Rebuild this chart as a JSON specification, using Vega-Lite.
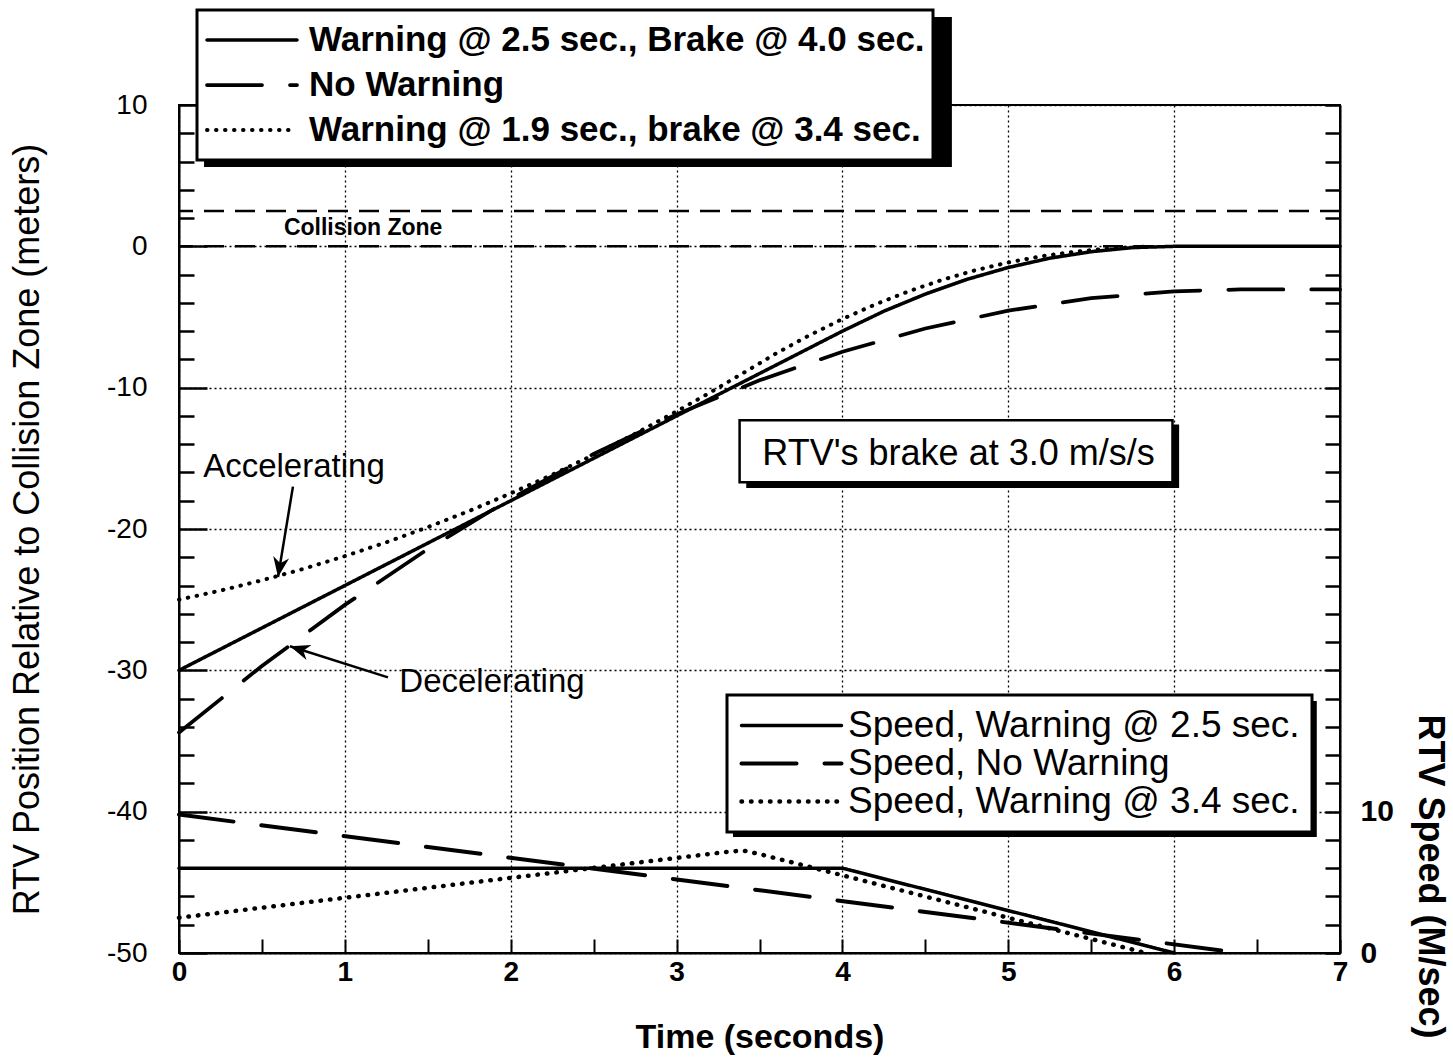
{
  "$schema": "https://vega.github.io/schema/vega-lite/v6.json",
  "width": 1161,
  "height": 848,
  "autosize": {"type": "none"},
  "padding": {"left": 179, "top": 105, "right": 113, "bottom": 107},
  "background": "white",
  "config": {
    "view": {"stroke": "black", "strokeWidth": 2},
    "font": "Liberation Sans",
    "text": {"color": "black"}
  },
  "datasets": {
    "pos": [
      {"series": "Warning @ 2.5 sec., Brake @ 4.0 sec.", "t": 0, "v": -30},
      {"series": "Warning @ 2.5 sec., Brake @ 4.0 sec.", "t": 4, "v": -6},
      {"series": "Warning @ 2.5 sec., Brake @ 4.0 sec.", "t": 4.25, "v": -4.59},
      {"series": "Warning @ 2.5 sec., Brake @ 4.0 sec.", "t": 4.5, "v": -3.38},
      {"series": "Warning @ 2.5 sec., Brake @ 4.0 sec.", "t": 4.75, "v": -2.34},
      {"series": "Warning @ 2.5 sec., Brake @ 4.0 sec.", "t": 5, "v": -1.5},
      {"series": "Warning @ 2.5 sec., Brake @ 4.0 sec.", "t": 5.25, "v": -0.84},
      {"series": "Warning @ 2.5 sec., Brake @ 4.0 sec.", "t": 5.5, "v": -0.38},
      {"series": "Warning @ 2.5 sec., Brake @ 4.0 sec.", "t": 5.75, "v": -0.09},
      {"series": "Warning @ 2.5 sec., Brake @ 4.0 sec.", "t": 6, "v": 0},
      {"series": "Warning @ 2.5 sec., Brake @ 4.0 sec.", "t": 7, "v": 0},
      {"series": "No Warning", "t": 0, "v": -34.4},
      {"series": "No Warning", "t": 0.5, "v": -29.69},
      {"series": "No Warning", "t": 1, "v": -25.37},
      {"series": "No Warning", "t": 1.5, "v": -21.42},
      {"series": "No Warning", "t": 2, "v": -17.86},
      {"series": "No Warning", "t": 2.5, "v": -14.69},
      {"series": "No Warning", "t": 3, "v": -11.89},
      {"series": "No Warning", "t": 3.5, "v": -9.48},
      {"series": "No Warning", "t": 4, "v": -7.46},
      {"series": "No Warning", "t": 4.5, "v": -5.81},
      {"series": "No Warning", "t": 5, "v": -4.55},
      {"series": "No Warning", "t": 5.5, "v": -3.67},
      {"series": "No Warning", "t": 6, "v": -3.18},
      {"series": "No Warning", "t": 6.4, "v": -3.05},
      {"series": "No Warning", "t": 7, "v": -3.05},
      {"series": "Warning @ 1.9 sec., brake @ 3.4 sec.", "t": 0, "v": -25},
      {"series": "Warning @ 1.9 sec., brake @ 3.4 sec.", "t": 0.25, "v": -24.36},
      {"series": "Warning @ 1.9 sec., brake @ 3.4 sec.", "t": 0.5, "v": -23.63},
      {"series": "Warning @ 1.9 sec., brake @ 3.4 sec.", "t": 0.75, "v": -22.82},
      {"series": "Warning @ 1.9 sec., brake @ 3.4 sec.", "t": 1, "v": -21.92},
      {"series": "Warning @ 1.9 sec., brake @ 3.4 sec.", "t": 1.25, "v": -20.94},
      {"series": "Warning @ 1.9 sec., brake @ 3.4 sec.", "t": 1.5, "v": -19.87},
      {"series": "Warning @ 1.9 sec., brake @ 3.4 sec.", "t": 1.75, "v": -18.72},
      {"series": "Warning @ 1.9 sec., brake @ 3.4 sec.", "t": 2, "v": -17.48},
      {"series": "Warning @ 1.9 sec., brake @ 3.4 sec.", "t": 2.25, "v": -16.16},
      {"series": "Warning @ 1.9 sec., brake @ 3.4 sec.", "t": 2.5, "v": -14.75},
      {"series": "Warning @ 1.9 sec., brake @ 3.4 sec.", "t": 2.75, "v": -13.26},
      {"series": "Warning @ 1.9 sec., brake @ 3.4 sec.", "t": 3, "v": -11.68},
      {"series": "Warning @ 1.9 sec., brake @ 3.4 sec.", "t": 3.2, "v": -10.36},
      {"series": "Warning @ 1.9 sec., brake @ 3.4 sec.", "t": 3.4, "v": -8.98},
      {"series": "Warning @ 1.9 sec., brake @ 3.4 sec.", "t": 3.6, "v": -7.58},
      {"series": "Warning @ 1.9 sec., brake @ 3.4 sec.", "t": 3.8, "v": -6.3},
      {"series": "Warning @ 1.9 sec., brake @ 3.4 sec.", "t": 4, "v": -5.14},
      {"series": "Warning @ 1.9 sec., brake @ 3.4 sec.", "t": 4.2, "v": -4.1},
      {"series": "Warning @ 1.9 sec., brake @ 3.4 sec.", "t": 4.4, "v": -3.18},
      {"series": "Warning @ 1.9 sec., brake @ 3.4 sec.", "t": 4.6, "v": -2.38},
      {"series": "Warning @ 1.9 sec., brake @ 3.4 sec.", "t": 4.8, "v": -1.7},
      {"series": "Warning @ 1.9 sec., brake @ 3.4 sec.", "t": 5, "v": -1.14},
      {"series": "Warning @ 1.9 sec., brake @ 3.4 sec.", "t": 5.2, "v": -0.7},
      {"series": "Warning @ 1.9 sec., brake @ 3.4 sec.", "t": 5.4, "v": -0.38},
      {"series": "Warning @ 1.9 sec., brake @ 3.4 sec.", "t": 5.6, "v": -0.16},
      {"series": "Warning @ 1.9 sec., brake @ 3.4 sec.", "t": 5.85, "v": 0}
    ],
    "spd": [
      {"series": "Speed, Warning @ 2.5 sec.", "t": 0, "v": 6},
      {"series": "Speed, Warning @ 2.5 sec.", "t": 4, "v": 6},
      {"series": "Speed, Warning @ 2.5 sec.", "t": 6, "v": 0},
      {"series": "Speed, No Warning", "t": 0, "v": 9.8},
      {"series": "Speed, No Warning", "t": 6.4, "v": 0},
      {"series": "Speed, Warning @ 3.4 sec.", "t": 0, "v": 2.5},
      {"series": "Speed, Warning @ 3.4 sec.", "t": 3.3, "v": 7.15},
      {"series": "Speed, Warning @ 3.4 sec.", "t": 3.4, "v": 7.25},
      {"series": "Speed, Warning @ 3.4 sec.", "t": 3.5, "v": 7.0},
      {"series": "Speed, Warning @ 3.4 sec.", "t": 5.83, "v": 0}
    ],
    "zone": [{"v": 2.5}, {"v": 0}],
    "zoneLabel": [{"label": "Collision Zone", "t": 1.11, "v": 1.27}],
    "notes": [
      {"label": "Accelerating", "t": 0.693, "v": -15.64},
      {"label": "Decelerating", "t": 1.887, "v": -30.86}
    ],
    "arrows": [
      {"t": 0.687, "v": -17.0, "t2": 0.597, "v2": -23.4, "ang": 189},
      {"t": 1.26, "v": -30.5, "t2": 0.669, "v2": -28.3, "ang": 288}
    ],
    "legendShadow": [
      {"t": 0.151, "t2": 4.66, "v": 16.22, "v2": 5.61},
      {"t": 3.34, "t2": 6.86, "v": -32.17, "v2": -41.8}
    ],
    "boxShadow": [{"t": 3.42, "t2": 6.03, "v": -12.6, "v2": -17.1}],
    "box": [{"t": 3.38, "t2": 5.99, "v": -12.3, "v2": -16.7}],
    "boxLabel": [{"label": "RTV's brake at 3.0 m/s/s", "t": 4.7, "v": -14.72}]
  },
  "layer": [
    {
      "layer": [
        {
          "data": {"name": "pos"},
          "mark": {"type": "line", "strokeCap": "round", "color": "black"},
          "encoding": {
            "x": {
              "field": "t", "type": "quantitative",
              "scale": {"domain": [0, 7], "nice": false},
              "axis": {
                "title": "Time  (seconds)",
                "values": [0, 0.5, 1, 1.5, 2, 2.5, 3, 3.5, 4, 4.5, 5, 5.5, 6, 6.5, 7],
                "labelExpr": "datum.value % 1 === 0 ? '' + datum.value : ''",
                "grid": true, "gridColor": "black", "gridDash": [2, 3], "gridWidth": 1.3,
                "gridOpacity": {"condition": {"test": "datum.value % 1 !== 0", "value": 0}, "value": 1},
                "tickSize": -14, "tickWidth": 2, "tickColor": "black",
                "domainColor": "black", "domainWidth": 2,
                "labelFont": "Liberation Sans", "labelFontWeight": "bold", "labelColor": "black",
                "labelFontSize": 28,
                "labelPadding": 19, "labelFlush": false, "labelOverlap": false,
                "titleFont": "Liberation Sans", "titleFontSize": 34, "titleFontWeight": "bold", "titleColor": "black",
                "titleY": 94, "titleBaseline": "alphabetic"
              }
            },
            "y": {
              "field": "v", "type": "quantitative",
              "scale": {"domain": [-50, 10], "nice": false},
              "axis": {
                "orient": "left",
                "title": "RTV Position Relative to Collision Zone (meters)",
                "values": [-50, -40, -30, -20, -10, 0, 10],
                "labelExpr": "'' + datum.value",
                "grid": true, "gridColor": "black", "gridDash": [2, 3], "gridWidth": 1.3,
                "tickSize": -28, "tickWidth": 2.5, "tickColor": "black",
                "domainColor": "black", "domainWidth": 2,
                "labelFont": "Liberation Sans", "labelColor": "black", "labelFontSize": 28,
                "labelPadding": 60, "labelOverlap": false, "labelFlush": false,
                "titleFont": "Liberation Sans", "titleFontSize": 36, "titleFontWeight": "normal", "titleColor": "black",
                "titleX": -152, "titleY": 424, "titleAngle": -90, "titleAlign": "center", "titleBaseline": "middle"
              }
            },
            "strokeWidth": {
              "field": "series", "type": "nominal",
              "scale": {
                "domain": ["Warning @ 2.5 sec., Brake @ 4.0 sec.", "No Warning", "Warning @ 1.9 sec., brake @ 3.4 sec."],
                "range": [3.5, 4, 5]
              },
              "legend": null
            },
            "strokeDash": {
              "field": "series", "type": "nominal",
              "scale": {
                "domain": ["Warning @ 2.5 sec., Brake @ 4.0 sec.", "No Warning", "Warning @ 1.9 sec., brake @ 3.4 sec."],
                "range": [[1, 0], [55, 28], [0.5, 8.5]]
              },
              "legend": {
                "title": null, "orient": "none", "legendX": 18, "legendY": -95, "direction": "vertical",
                "labelFont": "Liberation Sans", "labelFontWeight": "bold", "labelFontSize": 35,
                "labelColor": "black", "labelLimit": 2000, "labelOffset": 10,
                "symbolType": "stroke", "symbolSize": 8100, "symbolStrokeWidth": 4, "symbolStrokeColor": "black",
                "strokeColor": "black", "fillColor": "white", "padding": 8, "rowPadding": 1, "clipHeight": 44,
                "encode": {
                  "legend": {"update": {"strokeWidth": {"value": 3}}},
                  "symbols": {"update": {"strokeCap": {"value": "round"}}}
                }
              }
            }
          }
        },
        {
          "data": {"name": "zoneLabel"},
          "mark": {"type": "text", "font": "Liberation Sans", "fontWeight": "bold", "fontSize": 23, "align": "center", "baseline": "middle", "color": "black"},
          "encoding": {
            "x": {"field": "t", "type": "quantitative"},
            "y": {"field": "v", "type": "quantitative"},
            "text": {"field": "label"}
          }
        },
        {
          "data": {"name": "notes"},
          "mark": {"type": "text", "font": "Liberation Sans", "fontSize": 33, "align": "center", "baseline": "middle", "color": "black"},
          "encoding": {
            "x": {"field": "t", "type": "quantitative"},
            "y": {"field": "v", "type": "quantitative"},
            "text": {"field": "label"}
          }
        },
        {
          "data": {"name": "arrows"},
          "mark": {"type": "rule", "strokeWidth": 2.5, "color": "black"},
          "encoding": {
            "x": {"field": "t", "type": "quantitative"},
            "y": {"field": "v", "type": "quantitative"},
            "x2": {"field": "t2"},
            "y2": {"field": "v2"}
          }
        },
        {
          "data": {"name": "arrows"},
          "mark": {"type": "point", "shape": "M0,0L-0.4,1L0,0.7L0.4,1Z", "filled": true, "color": "black", "opacity": 1, "size": 1600},
          "encoding": {
            "x": {"field": "t2", "type": "quantitative"},
            "y": {"field": "v2", "type": "quantitative"},
            "angle": {"field": "ang", "type": "quantitative", "scale": null}
          }
        },
        {
          "data": {"name": "legendShadow"},
          "mark": {"type": "rect", "color": "black"},
          "encoding": {
            "x": {"field": "t", "type": "quantitative"},
            "x2": {"field": "t2"},
            "y": {"field": "v", "type": "quantitative"},
            "y2": {"field": "v2"}
          }
        },
        {
          "data": {"name": "boxShadow"},
          "mark": {"type": "rect", "color": "black"},
          "encoding": {
            "x": {"field": "t", "type": "quantitative"},
            "x2": {"field": "t2"},
            "y": {"field": "v", "type": "quantitative"},
            "y2": {"field": "v2"}
          }
        },
        {
          "data": {"name": "box"},
          "mark": {"type": "rect", "fill": "white", "stroke": "black", "strokeWidth": 2.5},
          "encoding": {
            "x": {"field": "t", "type": "quantitative"},
            "x2": {"field": "t2"},
            "y": {"field": "v", "type": "quantitative"},
            "y2": {"field": "v2"}
          }
        },
        {
          "data": {"name": "boxLabel"},
          "mark": {"type": "text", "font": "Liberation Sans", "fontSize": 36, "align": "center", "baseline": "middle", "color": "black"},
          "encoding": {
            "x": {"field": "t", "type": "quantitative"},
            "y": {"field": "v", "type": "quantitative"},
            "text": {"field": "label"}
          }
        }
      ]
    },
    {
      "data": {"name": "zone"},
      "mark": {"type": "rule", "strokeWidth": 2.5, "strokeDash": [20, 11], "color": "black"},
      "encoding": {
        "y": {
          "field": "v", "type": "quantitative",
          "scale": {"domain": [-50, 10], "nice": false},
          "axis": {
            "orient": "left",
            "title": null,
            "values": [-48, -46, -44, -42, -38, -36, -34, -32, -28, -26, -24, -22, -18, -16, -14, -12, -8, -6, -4, -2, 2, 4, 6, 8],
            "labels": false, "grid": false, "domain": false,
            "tickSize": -15, "tickWidth": 2.5, "tickColor": "black"
          }
        }
      }
    },
    {
      "data": {"name": "spd"},
      "mark": {"type": "line", "strokeCap": "round", "color": "black"},
      "encoding": {
        "x": {"field": "t", "type": "quantitative"},
        "y": {
          "field": "v", "type": "quantitative",
          "scale": {"domain": [0, 60], "nice": false},
          "axis": {
            "orient": "right",
            "title": "RTV Speed  (M/sec)",
            "values": [0, 2, 4, 6, 8, 10, 12, 14, 16, 18, 20, 22, 24, 26, 28, 30, 32, 34, 36, 38, 40, 42, 44, 46, 48, 50, 52, 54, 56, 58, 60],
            "labelExpr": "datum.value === 0 || datum.value === 10 ? '' + datum.value : ''",
            "grid": false,
            "tickSize": -15, "tickWidth": 2.5, "tickColor": "black",
            "domainColor": "black", "domainWidth": 2,
            "labelFont": "Liberation Sans", "labelFontWeight": "bold", "labelColor": "black",
            "labelFontSize": 30,
            "labelPadding": 35, "labelOverlap": false, "labelFlush": false,
            "titleFont": "Liberation Sans", "titleFontSize": 36, "titleFontWeight": "bold", "titleColor": "black",
            "titleX": 89, "titleY": 771, "titleAngle": 90, "titleAlign": "center", "titleBaseline": "middle"
          }
        },
        "strokeWidth": {
          "field": "series", "type": "nominal",
          "scale": {
            "domain": ["Speed, Warning @ 2.5 sec.", "Speed, No Warning", "Speed, Warning @ 3.4 sec."],
            "range": [3.5, 4.5, 5.5]
          },
          "legend": null
        },
        "strokeDash": {
          "field": "series", "type": "nominal",
          "scale": {
            "domain": ["Speed, Warning @ 2.5 sec.", "Speed, No Warning", "Speed, Warning @ 3.4 sec."],
            "range": [[1, 0], [55, 28], [0.5, 9]]
          },
          "legend": {
            "title": null, "orient": "none", "legendX": 548, "legendY": 590, "direction": "vertical",
            "labelFont": "Liberation Sans", "labelFontSize": 37,
            "labelColor": "black", "labelLimit": 2000, "labelOffset": 4,
            "symbolType": "stroke", "symbolSize": 10000, "symbolStrokeWidth": 4, "symbolStrokeColor": "black",
            "strokeColor": "black", "fillColor": "white", "padding": 12, "rowPadding": 0, "clipHeight": 37,
            "encode": {
              "legend": {"update": {"strokeWidth": {"value": 3}}},
              "symbols": {"update": {"strokeCap": {"value": "round"}}}
            }
          }
        }
      }
    }
  ],
  "resolve": {"scale": {"y": "independent", "strokeDash": "independent", "strokeWidth": "independent"}}
}
